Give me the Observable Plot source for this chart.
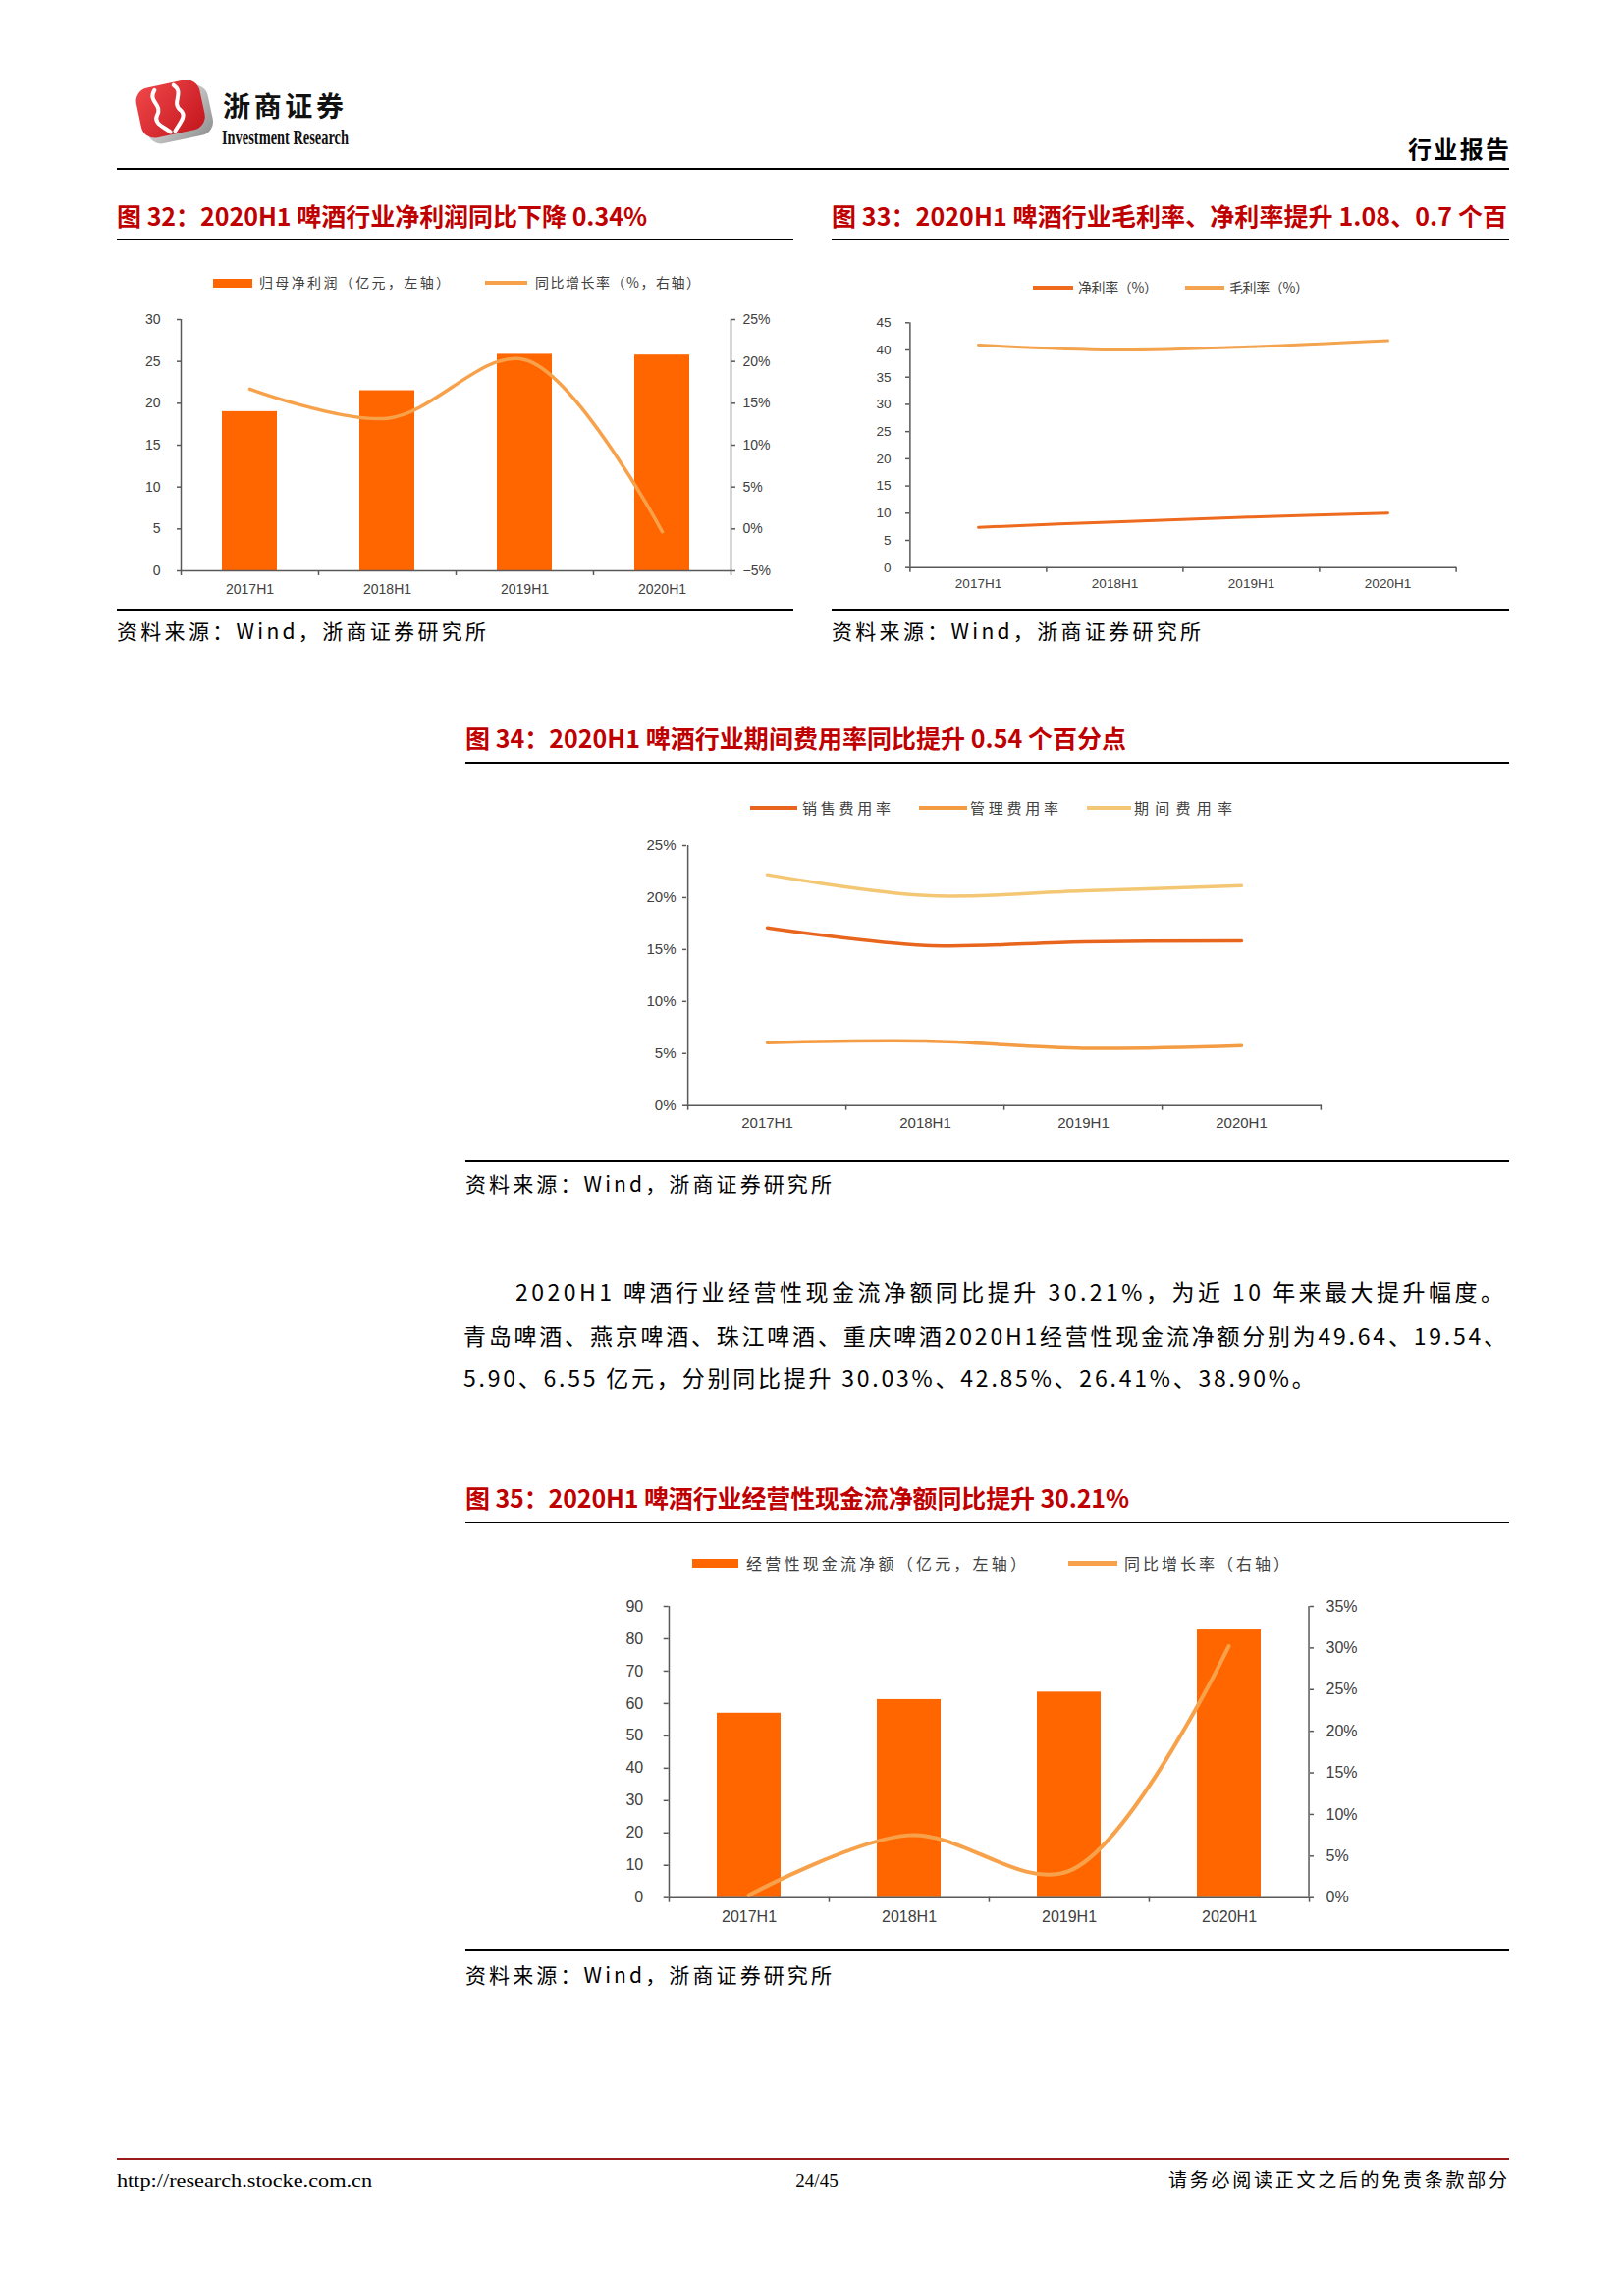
<!DOCTYPE html>
<html><head><meta charset="utf-8">
<script src="https://cdn.jsdelivr.net/npm/d3@7"></script>
<script src="https://cdn.jsdelivr.net/npm/@observablehq/plot@0.6"></script>
<style>
html,body{margin:0;padding:0;background:#fff;}
#page{position:relative;width:1654px;height:2339px;overflow:hidden;background:#fff;}
.abs{position:absolute;white-space:nowrap;}
</style></head><body><div id="page"></div>
<script>
// ---------------- data ----------------
const periods = ["2017H1", "2018H1", "2019H1", "2020H1"];
// 图32
const netProfit = [19.0, 21.5, 25.85, 25.76];
const netProfitYoY = [16.7, 13.2, 20.2, -0.34];
const ticks32L = [0, 5, 10, 15, 20, 25, 30];
const ticks32R = [-5, 0, 5, 10, 15, 20, 25];
// 图33
const netMargin = [7.4, 8.4, 9.3, 10.0];
const grossMargin = [40.9, 40.0, 40.6, 41.7];
const ticks33 = [0, 5, 10, 15, 20, 25, 30, 35, 40, 45];
// 图34
const sellingRate = [17.1, 15.4, 15.75, 15.85];
const adminRate = [6.05, 6.2, 5.5, 5.75];
const periodRate = [22.2, 20.2, 20.65, 21.15];
const ticks34 = [0, 5, 10, 15, 20, 25];
// 图35
const opCashFlow = [57.0, 61.2, 63.5, 82.7];
const opCashFlowYoY = [0.3, 7.5, 3.2, 30.21];
const ticks35L = [0, 10, 20, 30, 40, 50, 60, 70, 80, 90];
const ticks35R = [0, 5, 10, 15, 20, 25, 30, 35];

// ---------------- styles ----------------
const CJK = '"Noto Sans CJK SC","Noto Sans",sans-serif';
const LAT = '"Liberation Sans",Arial,sans-serif';
const SERIF = '"Liberation Serif","Times New Roman",serif';
const RED = "#C00000";
const AXIS = "#595959";
const TICK = "#404040";
const C_BAR = "#FF6600";
const C_YOY = "#F7A24A";
const C_NET = "#EE6A1E";
const C_GROSS = "#F4A34E";
const C_SELL = "#E8651E";
const C_ADMIN = "#F39C43";
const C_PERIOD = "#F4C774";

const page = document.getElementById("page");

function box(css) {
  const d = document.createElement("div");
  d.className = "abs";
  Object.assign(d.style, css);
  page.appendChild(d);
  return d;
}
function hline(x1, x2, y, w, color) {
  box({left: x1 + "px", top: (y - w / 2) + "px", width: (x2 - x1) + "px", height: w + "px", background: color});
}
// text: x = left edge (or right edge if right:true), cy = vertical centre
function text(s, o) {
  const size = o.size, fam = o.family || CJK;
  const k = o.k != null ? o.k : (fam === CJK ? 0.556 : 0.49);
  const d = box({fontFamily: fam, fontSize: size + "px", fontWeight: o.weight || 400,
    color: o.color || "#000", lineHeight: size + "px", top: (o.cy - k * size) + "px", left: "0px"});
  d.textContent = s;
  const n = [...s].length;
  let w = d.getBoundingClientRect().width;
  if (o.width != null) {
    if (o.scaleX) {
      const sx = o.width / w;
      d.style.transformOrigin = "0 50%";
      d.style.transform = `scaleX(${sx})`;
      w = o.width;
    } else {
      const ls = (o.width - w) / (n - 1);
      d.style.letterSpacing = ls + "px";
      w = o.width;
    }
  } else if (o.ls) {
    d.style.letterSpacing = o.ls + "px";
    w = w + o.ls * (n - 1);
  }
  const left = o.right ? o.x - w : (o.center ? o.x - w / 2 : o.x);
  d.style.left = left + "px";
  return d;
}
function swatchLine(x1, x2, cy, t, color) { box({left: x1 + "px", top: (cy - t / 2) + "px", width: (x2 - x1) + "px", height: t + "px", background: color}); }

function place(svg, left, top) {
  const d = box({left: left + "px", top: top + "px"});
  d.appendChild(svg);
}
function frameMarks(cats, step, yMin, left) {
  const s = {stroke: AXIS, strokeWidth: 1.5};
  const m = [Plot.ruleY([yMin], s)];
  if (left) m.push(Plot.ruleX([cats[0]], {...s, x: d => d, dx: -step / 2}));
  m.push(Plot.ruleX(cats, {...s, x: d => d, y1: yMin, y2: yMin, dx: -step / 2, insetBottom: -5}));
  m.push(Plot.ruleX([cats[cats.length - 1]], {...s, x: d => d, y1: yMin, y2: yMin, dx: step / 2, insetBottom: -5}));
  return m;
}
const pct = d => (d < 0 ? "\u2212" + (-d) : d) + "%";

function barLineChart(c) {
  const {cats, bars, line, left, top, W, H, m} = c;
  const step = (W - m.l - m.r) / cats.length;
  const xOpt = {domain: cats, paddingInner: 0.6, paddingOuter: 0.3, label: null};
  const style = {background: "transparent", fontFamily: LAT, fontSize: c.fs + "px", color: TICK, overflow: "visible"};
  const dims = {width: W, height: H, marginLeft: m.l, marginRight: m.r, marginTop: m.t, marginBottom: m.b, style};
  const barData = cats.map((p, i) => ({p, v: bars[i]}));
  const lineData = cats.map((p, i) => ({p, v: line[i]}));
  const A = Plot.plot({...dims, x: xOpt, y: {domain: c.yL, label: null},
    marks: [
      Plot.barY(barData, {x: "p", y: "v", fill: C_BAR}),
      ...frameMarks(cats, step, c.yL[0], true),
      Plot.axisY({ticks: c.ticksL, tickSize: c.tsL, tickPadding: c.padL, stroke: AXIS, strokeWidth: 1.5, fill: TICK, label: null}),
      Plot.axisX({tickSize: 0, tickPadding: c.xPad, fill: TICK, label: null})
    ]});
  const B = Plot.plot({...dims, x: {...xOpt, axis: null}, y: {domain: c.yR, label: null},
    marks: [
      Plot.ruleX([cats[cats.length - 1]], {x: d => d, dx: step / 2, stroke: AXIS, strokeWidth: 1.5}),
      Plot.lineY(lineData, {x: "p", y: "v", curve: "catmull-rom", stroke: C_YOY, strokeWidth: c.lw}),
      Plot.axisY({anchor: "right", ticks: c.ticksR, tickFormat: pct, tickSize: c.tsR, tickPadding: c.padR, stroke: AXIS, strokeWidth: 1.5, fill: TICK, label: null})
    ]});
  place(A, left, top);
  place(B, left, top);
}

function linesChart(c) {
  const {cats, series, left, top, W, H, m} = c;
  const step = (W - m.l - m.r) / cats.length;
  const style = {background: "transparent", fontFamily: LAT, fontSize: c.fs + "px", color: TICK, overflow: "visible"};
  const marks = [...frameMarks(cats, step, c.y[0], true),
    Plot.axisY({ticks: c.ticks, tickFormat: c.fmt, tickSize: c.ts, tickPadding: c.pad, stroke: AXIS, strokeWidth: 1.5, fill: TICK, label: null}),
    Plot.axisX({tickSize: 0, tickPadding: c.xPad, fill: TICK, label: null})];
  for (const s of series) {
    marks.push(Plot.lineY(cats.map((p, i) => ({p, v: s.values[i]})), {x: "p", y: "v", curve: "catmull-rom", stroke: s.color, strokeWidth: c.lw}));
  }
  const P = Plot.plot({width: W, height: H, marginLeft: m.l, marginRight: m.r, marginTop: m.t, marginBottom: m.b, style,
    x: {domain: cats, paddingInner: 0.6, paddingOuter: 0.3, label: null}, y: {domain: c.y, label: null}, marks});
  place(P, left, top);
}

// ---------------- header ----------------
const logo = box({left: "132px", top: "76px"});
logo.innerHTML = `<svg width="92" height="72" viewBox="0 0 92 72">
 <defs>
  <linearGradient id="gs" x1="0" y1="0" x2="1" y2="1"><stop offset="0" stop-color="#f4f4f4"/><stop offset="1" stop-color="#8f8f8f"/></linearGradient>
  <linearGradient id="gr" x1="0" y1="0" x2="1" y2="1"><stop offset="0" stop-color="#f0474a"/><stop offset="1" stop-color="#c3161d"/></linearGradient>
 </defs>
 <g transform="rotate(-12 46 36)">
  <rect x="14" y="15" width="68" height="52" rx="14" fill="url(#gs)"/>
  <rect x="9" y="8" width="66" height="52" rx="14" fill="url(#gr)"/>
  <path d="M30 12 C 20 22, 36 28, 27 38 C 22 45, 31 50, 37 57" stroke="#fff" stroke-width="4" fill="none" stroke-linecap="round"/>
  <path d="M50 11 C 60 21, 43 28, 52 38 C 57 45, 47 51, 42 57" stroke="#fff" stroke-width="4" fill="none" stroke-linecap="round"/>
 </g></svg>`;
text("浙商证券", {x: 227, cy: 109, size: 28, weight: 700, width: 123, color: "#111"});
text("Investment Research", {x: 226, cy: 140, size: 22, family: SERIF, weight: 700, width: 129, scaleX: true, color: "#111"});
text("行业报告", {x: 1537, cy: 152, size: 24, weight: 700, width: 103, right: true, color: "#000"});
hline(119, 1537, 172, 1.5, "#000");

// ---------------- 图32 ----------------
text("图 32：2020H1 啤酒行业净利润同比下降 0.34%", {x: 119, cy: 221, size: 25, weight: 700, color: RED, width: 540});
hline(119, 808, 244, 2, "#000");
box({left: "217px", top: "283.5px", width: "40px", height: "9px", background: C_BAR});
text("归母净利润（亿元，左轴）", {x: 264, cy: 288, size: 14, color: TICK, width: 194});
swatchLine(494, 537, 288, 4, C_YOY);
text("同比增长率（%，右轴）", {x: 545, cy: 288, size: 14, color: TICK, width: 168});
barLineChart({cats: periods, bars: netProfit, line: netProfitYoY, left: 110, top: 300, W: 700, H: 330,
  m: {l: 74, r: 66, t: 25, b: 49}, yL: [0, 30], yR: [-5, 25], ticksL: ticks32L, ticksR: ticks32R,
  fs: 14, tsL: 4, padL: 17, tsR: 4, padR: 8, xPad: 14, lw: 3.5});
hline(119, 808, 621, 1.5, "#000");
text("资料来源：Wind，浙商证券研究所", {x: 119, cy: 644, size: 21, color: "#000", width: 376});

// ---------------- 图33 ----------------
text("图 33：2020H1 啤酒行业毛利率、净利率提升 1.08、0.7 个百", {x: 847, cy: 221, size: 25, weight: 700, color: RED, width: 688});
hline(847, 1537, 244, 2, "#000");
swatchLine(1052, 1093, 293, 4, C_NET);
text("净利率（%）", {x: 1098, cy: 293, size: 14, color: TICK, width: 81});
swatchLine(1207, 1247, 293, 4, C_GROSS);
text("毛利率（%）", {x: 1252, cy: 293, size: 14, color: TICK, width: 81});
linesChart({cats: periods, series: [{values: grossMargin, color: C_GROSS}, {values: netMargin, color: C_NET}],
  left: 840, top: 300, W: 700, H: 330, m: {l: 86, r: 57, t: 28.3, b: 52.3}, y: [0, 45], ticks: ticks33,
  fmt: d => d, ts: 4, pad: 15, xPad: 11, fs: 13.5, lw: 3});
hline(847, 1537, 621, 1.5, "#000");
text("资料来源：Wind，浙商证券研究所", {x: 847, cy: 644, size: 21, color: "#000", width: 376});

// ---------------- 图34 ----------------
text("图 34：2020H1 啤酒行业期间费用率同比提升 0.54 个百分点", {x: 474, cy: 753, size: 25, weight: 700, color: RED, width: 673});
hline(474, 1537, 777, 2, "#000");
swatchLine(764, 812, 823, 4, C_SELL);
text("销售费用率", {x: 817, cy: 823, size: 15, color: TICK, width: 90});
swatchLine(936, 985, 823, 4, C_ADMIN);
text("管理费用率", {x: 988, cy: 823, size: 15, color: TICK, width: 90});
swatchLine(1107, 1152, 823, 4, C_PERIOD);
text("期间费用率", {x: 1155, cy: 823, size: 15, color: TICK, width: 100});
linesChart({cats: periods, series: [{values: adminRate, color: C_ADMIN}, {values: sellingRate, color: C_SELL}, {values: periodRate, color: C_PERIOD}],
  left: 620, top: 840, W: 780, H: 340, m: {l: 79, r: 54, t: 21, b: 54.3}, y: [0, 25], ticks: ticks34,
  fmt: d => d + "%", ts: 4, pad: 7, xPad: 12, fs: 15, lw: 3.5});
hline(474, 1537, 1183, 2.5, "#000");
text("资料来源：Wind，浙商证券研究所", {x: 474, cy: 1207, size: 21, color: "#000", width: 373});

// ---------------- 正文 ----------------
const para = [
  {s: "2020H1 啤酒行业经营性现金流净额同比提升 30.21%，为近 10 年来最大提升幅度。", x: 525, w: 1006, cy: 1317},
  {s: "青岛啤酒、燕京啤酒、珠江啤酒、重庆啤酒2020H1经营性现金流净额分别为49.64、19.54、", x: 472, w: 1062, cy: 1362},
];
let lsPara = 0;
for (const p of para) {
  const d = text(p.s, {x: p.x, cy: p.cy, size: 23, color: "#000", width: p.w});
  lsPara = parseFloat(d.style.letterSpacing);
}
text("5.90、6.55 亿元，分别同比提升 30.03%、42.85%、26.41%、38.90%。", {x: 472, cy: 1405, size: 23, color: "#000", ls: lsPara});

// ---------------- 图35 ----------------
text("图 35：2020H1 啤酒行业经营性现金流净额同比提升 30.21%", {x: 474, cy: 1527, size: 25, weight: 700, color: RED, width: 676});
hline(474, 1537, 1550.5, 2, "#000");
box({left: "705px", top: "1588px", width: "47px", height: "9px", background: C_BAR});
text("经营性现金流净额（亿元，左轴）", {x: 760, cy: 1592.5, size: 16, color: TICK, width: 285});
swatchLine(1088, 1138, 1592.5, 4.5, C_YOY);
text("同比增长率（右轴）", {x: 1145, cy: 1592.5, size: 16, color: TICK, width: 168});
barLineChart({cats: periods, bars: opCashFlow, line: opCashFlowYoY, left: 600, top: 1610, W: 800, H: 370,
  m: {l: 80.7, r: 67, t: 26, b: 47.3}, yL: [0, 90], yR: [0, 35], ticksL: ticks35L, ticksR: ticks35R,
  fs: 16, tsL: 5, padL: 21, tsR: 4, padR: 13, xPad: 13, lw: 4});
hline(474, 1537, 1987, 2.5, "#000");
text("资料来源：Wind，浙商证券研究所", {x: 474, cy: 2012.5, size: 21, color: "#000", width: 373});

// ---------------- footer ----------------
hline(119, 1537, 2199, 1.5, "#9B1B1B");
text("http://research.stocke.com.cn", {x: 119, cy: 2221, size: 19, family: SERIF, color: "#000", width: 260, scaleX: true, k: 0.5});
text("24/45", {x: 832, cy: 2221, size: 19, family: SERIF, color: "#000", center: true, k: 0.5});
text("请务必阅读正文之后的免责条款部分", {x: 1535, cy: 2221, size: 19, color: "#000", width: 345, right: true});
</script></body></html>
